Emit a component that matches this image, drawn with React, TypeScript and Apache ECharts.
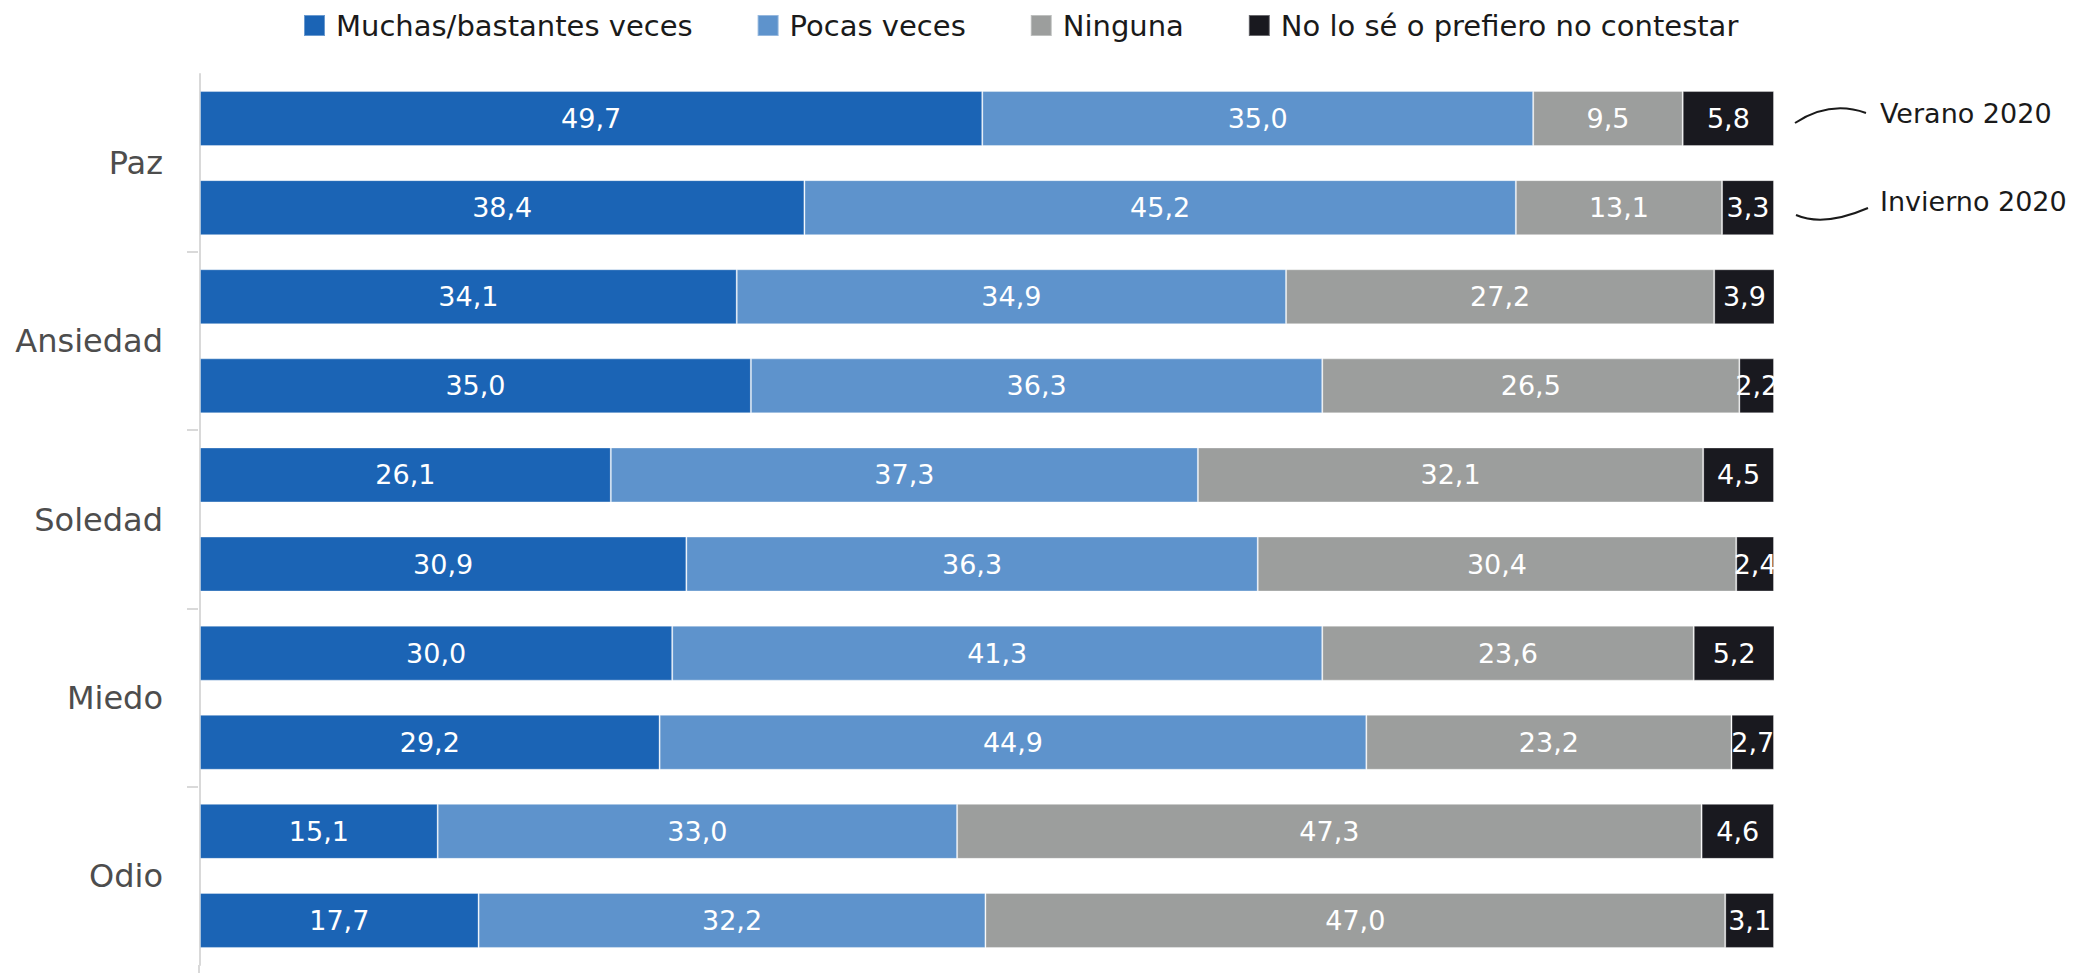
import React, { useEffect, useRef } from "react";
import * as echarts from "echarts";

const categories = ["Paz", "Ansiedad", "Soledad", "Miedo", "Odio"];
const periods = ["Verano 2020", "Invierno 2020"];
const seriesNames = [
  "Muchas/bastantes veces",
  "Pocas veces",
  "Ninguna",
  "No lo sé o prefiero no contestar",
];
const colors = ["#1b64b5", "#5e93cc", "#9c9e9d", "#19191f"];

// Verano 2020
const muchasVerano = [49.7, 34.1, 26.1, 30.0, 15.1];
const pocasVerano = [35.0, 34.9, 37.3, 41.3, 33.0];
const ningunaVerano = [9.5, 27.2, 32.1, 23.6, 47.3];
const nsncVerano = [5.8, 3.9, 4.5, 5.2, 4.6];
// Invierno 2020
const muchasInvierno = [38.4, 35.0, 30.9, 29.2, 17.7];
const pocasInvierno = [45.2, 36.3, 36.3, 44.9, 32.2];
const ningunaInvierno = [13.1, 26.5, 30.4, 23.2, 47.0];
const nsncInvierno = [3.3, 2.2, 2.4, 2.7, 3.1];

const FONT = "DejaVu Sans";
const AXIS_GRAY = "#d9d9d9";

export default function App() {
  const ref = useRef<HTMLDivElement>(null);

  useEffect(() => {
    if (!ref.current) return;
    const chart = echarts.init(ref.current, undefined, { renderer: "svg" });

    const groups = [
      { stack: periods[0], data: [muchasVerano, pocasVerano, ningunaVerano, nsncVerano] },
      { stack: periods[1], data: [muchasInvierno, pocasInvierno, ningunaInvierno, nsncInvierno] },
    ];

    const series: any[] = [];
    groups.forEach((g) => {
      g.data.forEach((arr, i) => {
        series.push({
          type: "bar",
          name: seriesNames[i],
          stack: g.stack,
          data: arr,
          barWidth: 55,
          barGap: "62%",
          itemStyle: {
            color: colors[i],
            borderColor: "rgba(255,255,255,0.35)",
            borderWidth: 1,
          },
          label: {
            show: true,
            position: "inside",
            color: "#ffffff",
            fontFamily: FONT,
            fontSize: 27,
            formatter: (p: any) => Number(p.value).toFixed(1).replace(".", ","),
          },
        });
      });
    });

    chart.setOption({
      animation: false,
      backgroundColor: "#ffffff",
      legend: {
        data: seriesNames,
        left: 298,
        top: 6,
        itemWidth: 21,
        itemHeight: 21,
        itemGap: 64,
        icon: "rect",
        textStyle: {
          fontFamily: FONT,
          fontSize: 29,
          color: "#1a1a1a",
          padding: [0, 0, 0, 6],
        },
      },
      grid: { left: 200, right: 303, top: 74, bottom: 8, containLabel: false },
      xAxis: { type: "value", min: 0, max: 100, show: false },
      yAxis: {
        type: "category",
        data: categories,
        inverse: true,
        offset: 1,
        axisLine: { show: true, lineStyle: { color: AXIS_GRAY, width: 2 } },
        axisTick: { show: false },
        axisLabel: {
          fontFamily: FONT,
          fontSize: 32,
          color: "#4d4d4d",
          margin: 36,
        },
      },
      series,
    });

    // Category boundary ticks (inner boundaries only), positioned by the axis scale
    const tickEls: any[] = [];
    for (let i = 1; i < categories.length; i++) {
      const a = chart.convertToPixel({ yAxisIndex: 0 }, categories[i - 1]) as number;
      const b = chart.convertToPixel({ yAxisIndex: 0 }, categories[i]) as number;
      const y = Math.round((a + b) / 2);
      tickEls.push({
        type: "line",
        shape: { x1: 187, y1: y, x2: 198, y2: y },
        style: { stroke: AXIS_GRAY, lineWidth: 2 },
      });
    }
    const lastC = chart.convertToPixel({ yAxisIndex: 0 }, categories[categories.length - 1]) as number;
    const prevC = chart.convertToPixel({ yAxisIndex: 0 }, categories[categories.length - 2]) as number;
    const axisEnd = lastC + (lastC - prevC) / 2;

    chart.setOption({
      graphic: [
        ...tickEls,
        {
          type: "line",
          shape: { x1: 199, y1: axisEnd, x2: 199, y2: 973 },
          style: { stroke: AXIS_GRAY, lineWidth: 2 },
        },
        {
          type: "bezierCurve",
          shape: { x1: 1795, y1: 123, x2: 1866, y2: 113, cpx1: 1830, cpy1: 100 },
          style: { stroke: "#1a1a1a", lineWidth: 2, fill: "none" },
        },
        {
          type: "bezierCurve",
          shape: { x1: 1796, y1: 215, x2: 1868, y2: 208, cpx1: 1824, cpy1: 227 },
          style: { stroke: "#1a1a1a", lineWidth: 2, fill: "none" },
        },
        {
          type: "text",
          x: 1880,
          y: 113,
          style: {
            text: periods[0],
            font: `27px "${FONT}"`,
            fill: "#1a1a1a",
            textVerticalAlign: "middle",
            verticalAlign: "middle",
          },
        },
        {
          type: "text",
          x: 1880,
          y: 201,
          style: {
            text: periods[1],
            font: `27px "${FONT}"`,
            fill: "#1a1a1a",
            textVerticalAlign: "middle",
            verticalAlign: "middle",
          },
        },
      ],
    });

    return () => chart.dispose();
  }, []);

  return (
    <div
      ref={ref}
      style={{ position: "absolute", left: 0, top: 0, width: 2077, height: 973 }}
    />
  );
}
